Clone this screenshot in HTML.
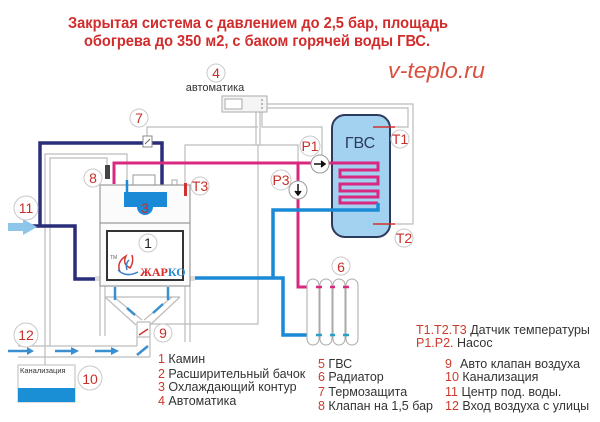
<!DOCTYPE html>
<html><head><meta charset="utf-8"><style>
html,body{margin:0;padding:0;background:#fff;}
svg{display:block;font-family:"Liberation Sans",Arial,sans-serif;}
.lb{fill:#fff;stroke:#c9c9c9;stroke-width:1;}
.lt{fill:#c8302a;font-size:14px;text-anchor:middle;}
.g{fill:none;stroke:#bcbcbc;stroke-width:1.2;}
.lg{font-size:12.5px;fill:#333;}
.rn{fill:#cc3a2c;}
</style></head><body>
<svg width="600" height="422" viewBox="0 0 600 422" xmlns="http://www.w3.org/2000/svg">
<rect width="600" height="422" fill="#fff"/>
<!-- title -->
<text x="258" y="28" text-anchor="middle" font-weight="bold" font-size="16" fill="#d22b2b" textLength="380" lengthAdjust="spacingAndGlyphs">Закрытая система  с давлением до 2,5 бар, площадь</text>
<text x="257" y="46" text-anchor="middle" font-weight="bold" font-size="16" fill="#d22b2b" textLength="346" lengthAdjust="spacingAndGlyphs">обогрева до 350 м2,  с баком горячей воды ГВС.</text>
<text x="388" y="78" font-size="22" font-style="italic" fill="#d9503e" textLength="97" lengthAdjust="spacingAndGlyphs">v-teplo.ru</text>

<!-- gray control wires -->
<path class="g" d="M267,104 H413 V224 H393"/>
<path class="g" d="M267,108 H408 V127 H393"/>
<path class="g" d="M256,112 V145 M260,112 V145 M258,145 V324 H150"/>
<path class="g" d="M262,112 V127 H322 V155"/>
<path class="g" d="M185,184 V145 H298 V181"/>
<path class="g" d="M147,137 V127 H258"/>
<path class="g" d="M45,366 V154 H127 V183"/>
<path class="g" d="M50,346 V158 H107 V165"/>
<!-- boiler legs / funnel / channel -->
<path class="g" d="M100,286 V336 M105,286 V336 M185,286 V342 M190,286 V342"/>
<path class="g" d="M105,297 L136,325 M180,297 L150,325 M114,297 L142,320 M172,297 L144,320 M105,297 H180"/>
<path class="g" d="M137,322 H150 V357 M137,322 V346 M137,337 H150"/>
<path class="g" d="M18,346 H137 M18,357 H150"/>

<!-- automatika -->
<rect x="222" y="96" width="45" height="16" fill="#f5f5f5" stroke="#aaa" stroke-width="1"/>
<rect x="225" y="99" width="17" height="10" fill="#fff" stroke="#aaa" stroke-width="1"/>
<circle cx="262" cy="100" r="0.9" fill="#888"/><circle cx="262" cy="104" r="0.9" fill="#888"/><circle cx="262" cy="108" r="0.9" fill="#888"/>
<text x="215" y="91" text-anchor="middle" font-size="11" fill="#333">автоматика</text>

<!-- GVS tank -->
<rect x="332" y="115" width="58" height="122" rx="13" fill="#a2d2f0" stroke="#2c3a5e" stroke-width="2"/>
<text x="360" y="148" text-anchor="middle" font-size="16" fill="#2c3a5e">ГВС</text>
<path d="M373,127 H395 M373,224 H395" stroke="#d23030" stroke-width="1.6"/>

<!-- navy cold pipe -->
<path d="M32,226 H75 V279 H98 M40,226 V143 H162 V192" fill="none" stroke="#2a2d7a" stroke-width="3.5"/>
<!-- light blue inlet arrow -->
<polygon points="8,223 23,223 23,219 37,227 23,235 23,231 8,231" fill="#8ec6ea"/>

<!-- pink hot pipe -->
<path d="M114,184 V163 H378 V170 H340 V177 H378 V184 H340 V191 H378 V197 H340 V203 H378 M298,163 V287 H307" fill="none" stroke="#d8287f" stroke-width="3"/>
<!-- blue return -->
<path d="M378,203 V210 H273 V278 M192,278 H283 V335 H307" fill="none" stroke="#1a8ad6" stroke-width="3.5"/>

<!-- pumps -->
<circle cx="320" cy="164" r="9" fill="#fff" stroke="#999" stroke-width="1"/>
<path d="M314,164 H324 M321,161 L325,164 L321,167" stroke="#111" stroke-width="1.5" fill="#111"/>
<circle cx="298" cy="190" r="9" fill="#fff" stroke="#999" stroke-width="1"/>
<path d="M298,184 V194 M295,191 L298,195 L301,191" stroke="#111" stroke-width="1.5" fill="#111"/>

<!-- radiator -->
<g fill="#fff" stroke="#aaa" stroke-width="1">
<rect x="307" y="279" width="12" height="66" rx="6"/>
<rect x="320" y="279" width="12" height="66" rx="6"/>
<rect x="333" y="279" width="12" height="66" rx="6"/>
<rect x="346" y="279" width="12" height="66" rx="6"/>
</g>
<path d="M316,287 H322 M330,287 H335 M343,287 H349" stroke="#d8287f" stroke-width="2.5"/>
<path d="M316,335 H322 M330,335 H335 M343,335 H349" stroke="#2aa0c8" stroke-width="2.5"/>

<!-- boiler -->
<rect x="95" y="276" width="5" height="5" fill="#ddd"/>
<rect x="190" y="276" width="5" height="5" fill="#ddd"/>
<rect x="133" y="175" width="22" height="11" fill="#fff" stroke="#999" stroke-width="1"/>
<path d="M172,186 V180 H177 V186" fill="none" stroke="#aaa" stroke-width="1"/>
<rect x="100" y="185" width="90" height="101" fill="#fbfbfb" stroke="#999" stroke-width="1.2"/>
<line x1="100" y1="223" x2="190" y2="223" stroke="#999" stroke-width="1.2"/>
<rect x="107" y="231" width="76" height="49" fill="#fff" stroke="#333" stroke-width="2"/>
<rect x="124" y="192" width="43" height="15" fill="#1a8ad6"/>
<path d="M127,180 V192" stroke="#1a8ad6" stroke-width="2.5"/>
<rect x="184" y="183" width="3" height="13" fill="#d23030"/>
<rect x="105" y="165" width="5" height="14" fill="#444"/>
<rect x="143" y="136" width="9" height="11" fill="#fff" stroke="#888" stroke-width="1"/>
<line x1="145" y1="144" x2="150" y2="139" stroke="#666" stroke-width="1"/>
<!-- logo -->
<text x="110" y="259" font-size="5" fill="#666">TM</text>
<path d="M120,272 Q116,262 126,256 Q122,264 130,268 Q134,262 132,255" fill="none" stroke="#d23a3a" stroke-width="1.5"/>
<path d="M118,270 Q126,278 138,272" fill="none" stroke="#3a7ec8" stroke-width="1.5"/>
<path d="M127,270 Q125,264 129,260" fill="none" stroke="#3a7ec8" stroke-width="1.5"/>
<text x="140" y="276" font-size="12" font-family="Liberation Serif,serif" font-weight="bold"><tspan fill="#d42a2a">ЖАР</tspan><tspan fill="#2a8ad0">КО</tspan></text>

<!-- blue flow dashes -->
<g stroke="#3a8fd0" stroke-width="2.5" fill="none">
<path d="M115,287 V300 M168,287 V300"/>
<path d="M127,308 L135,315 M163,304 L153,313"/>
<path d="M137,355 L148,346"/>
</g>
<line x1="139" y1="335" x2="148" y2="329" stroke="#d23030" stroke-width="1.5"/>
<g fill="#3a8fd0" stroke="#3a8fd0" stroke-width="2.5">
<path d="M8,351 H28"/><polygon points="27,347 34,351 27,355" stroke="none"/>
<path d="M55,351 H72"/><polygon points="71,347 79,351 71,355" stroke="none"/>
<path d="M95,351 H112"/><polygon points="111,347 119,351 111,355" stroke="none"/>
</g>

<!-- canalization -->
<rect x="18" y="365" width="57" height="37" fill="#fff" stroke="#bbb" stroke-width="1"/>
<rect x="18" y="388" width="57" height="14" fill="#1a8fd6"/>
<text x="20" y="373" font-size="7.5" fill="#333">Канализация</text>

<!-- circle labels -->
<circle class="lb" cx="216" cy="73" r="9"/><text class="lt" x="216" y="78">4</text>
<circle class="lb" cx="139" cy="118" r="9"/><text class="lt" x="139" y="123">7</text>
<circle class="lb" cx="310" cy="146" r="10"/><text class="lt" x="310" y="151" font-size="13">P1</text>
<circle class="lb" cx="281" cy="180" r="10"/><text class="lt" x="281" y="185" font-size="13">P3</text>
<circle class="lb" cx="400" cy="139" r="9"/><text class="lt" x="400" y="144" font-size="13">T1</text>
<circle class="lb" cx="404" cy="238" r="9"/><text class="lt" x="404" y="243" font-size="13">T2</text>
<circle class="lb" cx="93" cy="178" r="9"/><text class="lt" x="93" y="183">8</text>
<circle class="lb" cx="200" cy="186" r="9"/><text class="lt" x="200" y="191" font-size="13">T3</text>
<circle cx="145" cy="207" r="8" fill="#1a8ad6" stroke="none"/><text class="lt" x="145" y="213" font-size="16">3</text>
<circle class="lb" cx="26" cy="208" r="12"/><text class="lt" x="26" y="213" font-size="15">11</text>
<circle class="lb" cx="148" cy="243" r="9"/><text x="148" y="248" text-anchor="middle" font-size="14" fill="#222">1</text>
<circle class="lb" cx="341" cy="266" r="9"/><text class="lt" x="341" y="272" font-size="16">6</text>
<circle class="lb" cx="26" cy="335" r="12"/><text class="lt" x="26" y="340" font-size="15">12</text>
<circle class="lb" cx="163" cy="333" r="9"/><text class="lt" x="163" y="338" font-size="15">9</text>
<circle class="lb" cx="90" cy="378" r="12"/><text class="lt" x="90" y="384" font-size="16">10</text>

<!-- legend -->
<g class="lg">
<text x="158" y="363"><tspan class="rn">1</tspan> Камин</text>
<text x="158" y="378"><tspan class="rn">2</tspan> Расширительный бачок</text>
<text x="158" y="391"><tspan class="rn">3</tspan> Охлаждающий контур</text>
<text x="158" y="405"><tspan class="rn">4</tspan> Автоматика</text>
<text x="318" y="368"><tspan class="rn">5</tspan> ГВС</text>
<text x="318" y="381"><tspan class="rn">6</tspan> Радиатор</text>
<text x="318" y="396"><tspan class="rn">7</tspan> Термозащита</text>
<text x="318" y="410"><tspan class="rn">8</tspan> Клапан на 1,5 бар</text>
<text x="445" y="368" class="rn">9</text><text x="460" y="368">Авто клапан воздуха</text>
<text x="445" y="381"><tspan class="rn">10</tspan> Канализация</text>
<text x="445" y="396"><tspan class="rn">11</tspan> Центр под. воды.</text>
<text x="445" y="410"><tspan class="rn">12</tspan> Вход воздуха с улицы</text>
<text x="416" y="334"><tspan class="rn">T1.T2.T3</tspan> Датчик температуры</text>
<text x="416" y="347"><tspan class="rn">P1.P2.</tspan> Насос</text>
</g>
</svg>
</body></html>
